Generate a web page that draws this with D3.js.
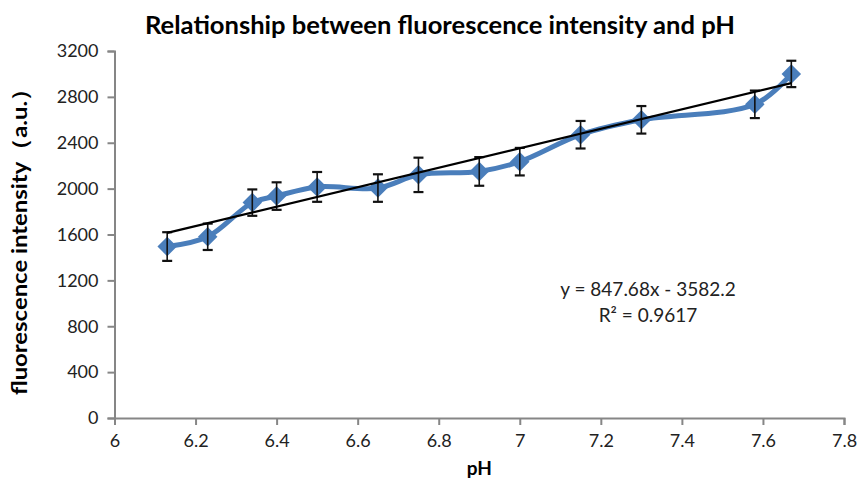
<!DOCTYPE html>
<html>
<head>
<meta charset="utf-8">
<script src="https://cdn.jsdelivr.net/npm/d3@7"></script>
<style>
  body { margin: 0; background: #fff; }
  text { font-family: Lato, "Open Sans", sans-serif; }
</style>
</head>
<body>
<svg id="chart" width="858" height="479"></svg>
<script>
// measured points (pH vs fluorescence intensity)
var phValues = [6.13, 6.23, 6.34, 6.40, 6.50, 6.65, 6.75, 6.90, 7.00, 7.15, 7.30, 7.58, 7.67];
var intensity = [1495, 1580, 1878, 1935, 2015, 2005, 2120, 2150, 2235, 2470, 2600, 2735, 3000];
var errValues = [125, 115, 115, 120, 130, 120, 150, 125, 120, 120, 120, 120, 115];
var xTicks = [6, 6.2, 6.4, 6.6, 6.8, 7, 7.2, 7.4, 7.6, 7.8];
var yTicks = [0, 400, 800, 1200, 1600, 2000, 2400, 2800, 3200];
var slope = 847.68, intercept = -3582.2, r2 = 0.9617;

var margin = {top: 51, right: 14, bottom: 61, left: 114.5},
    width = 858 - margin.left - margin.right,
    height = 479 - margin.top - margin.bottom;

var x = d3.scaleLinear().domain([6, 7.8]).range([0, width]);
var y = d3.scaleLinear().domain([0, 3200]).range([height, 0]);

var svg = d3.select("#chart");

svg.append("text")
    .attr("x", 440)
    .attr("y", 34)
    .attr("text-anchor", "middle")
    .attr("textLength", 590)
    .attr("lengthAdjust", "spacingAndGlyphs")
    .style("font-size", "24px")
    .style("font-weight", "bold")
    .text("Relationship between fluorescence intensity and pH");

var g = svg.append("g")
    .attr("transform", "translate(" + margin.left + "," + margin.top + ")");

// axes
var xAxis = g.append("g")
    .attr("transform", "translate(0," + height + ")")
    .call(d3.axisBottom(x).tickValues(xTicks).tickSize(7).tickPadding(9).tickFormat(d3.format("")));
var yAxis = g.append("g")
    .call(d3.axisLeft(y).tickValues(yTicks).tickSize(7).tickPadding(9).tickFormat(d3.format("")));

[xAxis, yAxis].forEach(function(a) {
  a.select(".domain").attr("stroke", "#868686").attr("stroke-width", 2);
  a.selectAll(".tick line").attr("stroke", "#868686").attr("stroke-width", 2);
  a.selectAll(".tick text").attr("fill", "#222").style("font-size", "18px")
    .style("font-family", "Lato, sans-serif");
});

// axis titles
svg.append("text")
    .attr("x", margin.left + width / 2)
    .attr("y", 475)
    .attr("text-anchor", "middle")
    .style("font-size", "19px")
    .style("font-weight", "bold")
    .text("pH");

svg.append("text")
    .attr("transform", "translate(27," + 236 + ") rotate(-90)")
    .attr("text-anchor", "middle")
    .attr("textLength", 318)
    .attr("lengthAdjust", "spacingAndGlyphs")
    .style("font-size", "21px")
    .style("font-weight", "bold")
    .text("fluorescence intensity（a.u.）");

var data = phValues.map(function(p, i) {
  return {ph: p, val: intensity[i], err: errValues[i]};
});

// smoothed series line
var line = d3.line()
    .x(function(d) { return x(d.ph); })
    .y(function(d) { return y(d.val); })
    .curve(d3.curveCatmullRom.alpha(0.5));

g.append("path")
    .datum(data)
    .attr("fill", "none")
    .attr("stroke", "#4a7ebb")
    .attr("stroke-width", 5)
    .attr("d", line);

// diamonds
g.selectAll(".pt")
    .data(data)
  .enter().append("path")
    .attr("class", "pt")
    .attr("transform", function(d) { return "translate(" + x(d.ph) + "," + y(d.val) + ") rotate(45)"; })
    .attr("d", d3.symbol().type(d3.symbolSquare).size(190))
    .attr("fill", "#4a7ebb");

// error bars
var eb = g.selectAll(".err")
    .data(data)
  .enter().append("g")
    .attr("class", "err")
    .attr("stroke", "#111")
    .attr("stroke-width", 1.6);

eb.append("line")
    .attr("x1", function(d) { return x(d.ph); })
    .attr("x2", function(d) { return x(d.ph); })
    .attr("y1", function(d) { return y(d.val - d.err); })
    .attr("y2", function(d) { return y(d.val + d.err); });
eb.append("line")
    .attr("x1", function(d) { return x(d.ph) - 5; })
    .attr("x2", function(d) { return x(d.ph) + 5; })
    .attr("y1", function(d) { return y(d.val + d.err); })
    .attr("y2", function(d) { return y(d.val + d.err); })
    .attr("stroke-width", 2.2);
eb.append("line")
    .attr("x1", function(d) { return x(d.ph) - 5; })
    .attr("x2", function(d) { return x(d.ph) + 5; })
    .attr("y1", function(d) { return y(d.val - d.err); })
    .attr("y2", function(d) { return y(d.val - d.err); })
    .attr("stroke-width", 2.2);

// linear trendline
var x0 = d3.min(phValues), x1 = d3.max(phValues);
g.append("line")
    .attr("x1", x(x0))
    .attr("y1", y(slope * x0 + intercept))
    .attr("x2", x(x1))
    .attr("y2", y(slope * x1 + intercept))
    .attr("stroke", "#000")
    .attr("stroke-width", 2.2);

// equation
svg.append("text")
    .attr("x", 648)
    .attr("y", 296)
    .attr("text-anchor", "middle")
    .style("font-size", "19px")
    .attr("fill", "#222")
    .text("y = " + slope + "x - " + Math.abs(intercept));
svg.append("text")
    .attr("x", 648)
    .attr("y", 322)
    .attr("text-anchor", "middle")
    .style("font-size", "19px")
    .attr("fill", "#222")
    .text("R² = " + r2);
</script>
</body>
</html>
